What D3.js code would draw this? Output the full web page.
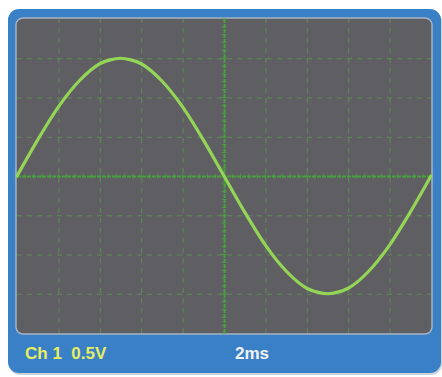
<!DOCTYPE html>
<html>
<head>
<meta charset="utf-8">
<script src="https://cdn.jsdelivr.net/npm/d3@7"></script>
<style>
  body { margin: 0; background: #ffffff; }
  svg { display: block; }
</style>
</head>
<body>
<div class="chart"></div>
<script>
// Trace: time (ms) and voltage (V)
const timeMs = [0, 1, 2, 3, 4, 5, 6, 7, 8, 9, 10, 11, 12, 13, 14, 15, 16, 17, 18, 19, 20];
const voltage = [0, 0.46, 0.88, 1.21, 1.43, 1.5, 1.43, 1.21, 0.88, 0.46, 0,
  -0.46, -0.88, -1.21, -1.43, -1.5, -1.43, -1.21, -0.88, -0.46, 0];

// Grid divisions
const timeTicks = [0, 2, 4, 6, 8, 10, 12, 14, 16, 18, 20];
const voltTicks = [-2, -1.5, -1, -0.5, 0, 0.5, 1, 1.5, 2];

const channelLabel = "Ch 1  0.5V";
const timebaseLabel = "2ms";

const W = 442, H = 377;
const screen = { left: 17, top: 19, right: 431, bottom: 333 };

const svg = d3.select(".chart")
  .append("svg")
  .attr("width", W)
  .attr("height", H);

// Blue casing
svg.append("rect")
  .attr("x", 9).attr("y", 11)
  .attr("width", 433).attr("height", 364)
  .attr("rx", 11)
  .attr("fill", "#c9d3dc");
svg.append("rect")
  .attr("x", 8).attr("y", 9)
  .attr("width", 433).attr("height", 364)
  .attr("rx", 11)
  .attr("fill", "#3a80c6");

// Screen
svg.append("rect")
  .attr("x", screen.left - 1).attr("y", screen.top - 1)
  .attr("width", screen.right - screen.left + 2)
  .attr("height", screen.bottom - screen.top + 2)
  .attr("rx", 7)
  .attr("fill", "#5f5f63")
  .attr("stroke", "#a6b4c4")
  .attr("stroke-width", 1.5);

const x = d3.scaleLinear()
  .domain([0, 20])
  .range([screen.left, screen.right]);

const y = d3.scaleLinear()
  .domain([-2, 2])
  .range([screen.bottom, screen.top]);

// Dashed grid via axes
const gridX = svg.append("g")
  .attr("transform", "translate(0," + screen.bottom + ")")
  .call(d3.axisBottom(x).tickValues(timeTicks.slice(1, -1))
    .tickSize(-(screen.bottom - screen.top)).tickFormat(""));
const gridY = svg.append("g")
  .attr("transform", "translate(" + screen.left + ",0)")
  .call(d3.axisLeft(y).tickValues(voltTicks.slice(1, -1))
    .tickSize(-(screen.right - screen.left)).tickFormat(""));

[gridX, gridY].forEach(function (g) {
  g.select(".domain").remove();
  g.selectAll("line")
    .attr("stroke", "#5f9a52")
    .attr("stroke-opacity", 0.75)
    .attr("stroke-width", 1)
    .attr("stroke-dasharray", "5,5");
});

// Centre lines brighter, with minor ticks
gridX.selectAll(".tick")
  .filter(function (d) { return d === 10; })
  .select("line")
  .attr("stroke", "#45a83a")
  .attr("stroke-opacity", 0.9)
  .attr("stroke-width", 2)
  .attr("stroke-dasharray", "4,1");
gridY.selectAll(".tick")
  .filter(function (d) { return d === 0; })
  .select("line")
  .attr("stroke", "#45a83a")
  .attr("stroke-opacity", 0.9)
  .attr("stroke-width", 2)
  .attr("stroke-dasharray", "4,1");

const minorT = d3.range(0, 20.01, 0.4);
const minorV = d3.range(-2, 2.01, 0.1);
svg.append("g").selectAll("line")
  .data(minorT)
  .enter()
  .append("line")
  .attr("x1", function (d) { return x(d); })
  .attr("x2", function (d) { return x(d); })
  .attr("y1", y(0) - 2.5)
  .attr("y2", y(0) + 2.5)
  .attr("stroke", "#45a83a")
  .attr("stroke-opacity", 0.8)
  .attr("stroke-width", 1);
svg.append("g").selectAll("line")
  .data(minorV)
  .enter()
  .append("line")
  .attr("x1", x(10) - 2.5)
  .attr("x2", x(10) + 2.5)
  .attr("y1", function (d) { return y(d); })
  .attr("y2", function (d) { return y(d); })
  .attr("stroke", "#45a83a")
  .attr("stroke-opacity", 0.8)
  .attr("stroke-width", 1);

// Trace
const trace = timeMs.map(function (t, i) { return [t, voltage[i]]; });
svg.append("path")
  .datum(trace)
  .attr("fill", "none")
  .attr("stroke", "#94d558")
  .attr("stroke-width", 3.2)
  .attr("stroke-linecap", "round")
  .attr("d", d3.line()
    .x(function (d) { return x(d[0]); })
    .y(function (d) { return y(d[1]); })
    .curve(d3.curveCardinal.tension(0.2)));

// Labels
svg.append("text")
  .attr("x", 25).attr("y", 359)
  .attr("fill", "#e6ee62")
  .style("font-family", "Liberation Sans, Arial, sans-serif")
  .style("font-size", "17px")
  .style("font-weight", "bold")
  .style("white-space", "pre")
  .attr("xml:space", "preserve")
  .text(channelLabel);

svg.append("text")
  .attr("x", 235).attr("y", 359)
  .attr("fill", "#f2f2f2")
  .style("font-family", "Liberation Sans, Arial, sans-serif")
  .style("font-size", "17px")
  .style("font-weight", "bold")
  .text(timebaseLabel);
</script>
</body>
</html>
